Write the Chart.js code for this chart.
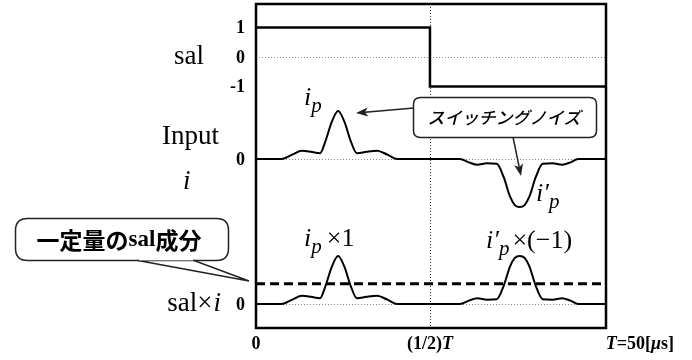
<!DOCTYPE html>
<html><head><meta charset="utf-8">
<script src="https://cdn.jsdelivr.net/npm/chart.js@4"></script>
<style>html,body{margin:0;padding:0;background:#fff}canvas{display:block}</style>
</head><body>
<canvas id="c" width="692" height="360"></canvas>
<script>
// ---------------- data (time in microseconds) ----------------
const salTime  = [0, 25, 25, 50.3];
const salValue = [1, 1, -1, -1];

const inputTime  = [0, 3.7, 5.2, 6.6, 7.9, 9.2, 10.0, 10.9, 11.8, 12.7, 13.6, 14.5, 15.9, 17.4, 18.9, 20.3,
                    29.3, 30.6, 31.8, 33.2, 34.6, 35.6, 36.5, 37.2, 37.9, 38.6, 39.3, 40.2, 41.2, 42.6, 44.0, 45.2, 46.3, 50.3];
const inputValue = [0, 0, 0.09, 0.17, 0.15, 0.12, 0.38, 0.78, 1.0, 0.78, 0.38, 0.12, 0.15, 0.17, 0.09, 0,
                    0, -0.07, -0.12, -0.09, -0.1, -0.38, -0.78, -0.96, -1.0, -0.96, -0.78, -0.38, -0.1, -0.09, -0.12, -0.07, 0, 0];

const productTime  = [0, 3.7, 5.2, 6.6, 7.9, 9.2, 10.0, 10.9, 11.8, 12.7, 13.6, 14.5, 15.9, 17.4, 18.9, 20.3,
                      29.3, 30.6, 31.8, 33.2, 34.6, 35.6, 36.5, 37.2, 37.9, 38.6, 39.3, 40.2, 41.2, 42.6, 44.0, 45.2, 46.3, 50.3];
const productValue = [0, 0, 0.09, 0.17, 0.15, 0.12, 0.38, 0.78, 1.0, 0.78, 0.38, 0.12, 0.15, 0.17, 0.09, 0,
                      0, 0.07, 0.12, 0.09, 0.1, 0.38, 0.78, 0.96, 1.0, 0.96, 0.78, 0.38, 0.1, 0.09, 0.12, 0.07, 0, 0];

const dcTime  = [0, 49.6];
const dcValue = [0.42, 0.42];

const salTickValues = [1, 0, -1];
const salTickLabels = ['1', '0', '-1'];
const xTickValues = [0, 25, 50];

// ---------------- panel layout (vertical placement on a shared axis) ----------------
const PANEL = {
  sal:     { base: 247, gain: 29.5 },
  input:   { base: 145, gain: 48 },
  product: { base: 0,   gain: 48 }
};
const toPts = (ts, vs, p) => ts.map((t, i) => ({ x: t, y: p.base + p.gain * vs[i] }));

const SERIF = "'Liberation Serif','Times New Roman',serif";
const CJK = "'Noto Sans CJK JP','Noto Sans CJK SC',sans-serif";

function runs(ctx, parts, x, y, align) {
  let w = 0;
  parts.forEach(p => { ctx.font = p.f; p.w = ctx.measureText(p.t).width; w += p.w + (p.gap || 0); });
  let cx = align === 'center' ? x - w / 2 : align === 'right' ? x - w : x;
  ctx.textAlign = 'left';
  parts.forEach(p => { ctx.font = p.f; ctx.fillText(p.t, cx, y + (p.dy || 0)); cx += p.w + (p.gap || 0); });
}
function rrect(ctx, x, y, w, h, r) {
  ctx.beginPath();
  ctx.moveTo(x + r, y); ctx.lineTo(x + w - r, y); ctx.quadraticCurveTo(x + w, y, x + w, y + r);
  ctx.lineTo(x + w, y + h - r); ctx.quadraticCurveTo(x + w, y + h, x + w - r, y + h);
  ctx.lineTo(x + r, y + h); ctx.quadraticCurveTo(x, y + h, x, y + h - r);
  ctx.lineTo(x, y + r); ctx.quadraticCurveTo(x, y, x + r, y); ctx.closePath();
}
function arrow(ctx, x1, y1, x2, y2) {
  const a = Math.atan2(y2 - y1, x2 - x1), L = 12, W = 4.5, N = 9;
  ctx.beginPath(); ctx.moveTo(x1, y1); ctx.lineTo(x2 - N * Math.cos(a), y2 - N * Math.sin(a)); ctx.stroke();
  ctx.beginPath();
  ctx.moveTo(x2, y2);
  ctx.lineTo(x2 - L * Math.cos(a) + W * Math.sin(a), y2 - L * Math.sin(a) - W * Math.cos(a));
  ctx.lineTo(x2 - N * Math.cos(a), y2 - N * Math.sin(a));
  ctx.lineTo(x2 - L * Math.cos(a) - W * Math.sin(a), y2 - L * Math.sin(a) + W * Math.cos(a));
  ctx.closePath(); ctx.fill();
}

const deco = {
  id: 'deco',
  beforeDatasetsDraw(chart) {
    const { ctx, chartArea: a, scales: { x, y } } = chart;
    ctx.save();
    ctx.lineWidth = 1;
    ctx.strokeStyle = '#8a8a8a';
    ctx.setLineDash([1, 2]);
    [PANEL.sal.base, PANEL.input.base, PANEL.product.base].forEach(v => {
      const py = Math.round(y.getPixelForValue(v)) + 0.5;
      ctx.beginPath(); ctx.moveTo(a.left, py); ctx.lineTo(a.right, py); ctx.stroke();
    });
    ctx.strokeStyle = '#333';
    const px = Math.round(x.getPixelForValue(25)) + 0.5;
    ctx.beginPath(); ctx.moveTo(px, a.top); ctx.lineTo(px, a.bottom); ctx.stroke();
    ctx.restore();
  },
  afterDatasetsDraw(chart) {
    const { ctx, chartArea: a, scales: { x, y } } = chart;
    ctx.save();
    // frame
    ctx.strokeStyle = '#000'; ctx.lineWidth = 2.5; ctx.setLineDash([]);
    ctx.strokeRect(a.left, a.top, a.right - a.left, a.bottom - a.top);

    ctx.fillStyle = '#000';
    // y tick labels
    ctx.textBaseline = 'middle';
    const tf = 'bold 18px ' + SERIF;
    salTickValues.forEach((v, i) => runs(ctx, [{ t: salTickLabels[i], f: tf }], 245, y.getPixelForValue(PANEL.sal.base + PANEL.sal.gain * v) + 1, 'right'));
    runs(ctx, [{ t: '0', f: tf }], 245, y.getPixelForValue(PANEL.input.base) + 1, 'right');
    runs(ctx, [{ t: '0', f: tf }], 245, y.getPixelForValue(PANEL.product.base) + 1, 'right');
    // x tick labels
    const xf = 'bold 18px ' + SERIF, xfi = 'italic bold 18px ' + SERIF;
    const xb = 344;
    runs(ctx, [{ t: '0', f: xf }], x.getPixelForValue(xTickValues[0]), xb, 'center');
    runs(ctx, [{ t: '(1/2)', f: xf }, { t: 'T', f: xfi }], x.getPixelForValue(xTickValues[1]), xb, 'center');
    runs(ctx, [{ t: 'T', f: xfi }, { t: '=50[', f: xf }, { t: 'μ', f: xfi }, { t: 's]', f: xf }], 674, xb, 'right');

    // left row labels
    ctx.textBaseline = 'alphabetic';
    const lf = '27px ' + SERIF, lfi = 'italic 27px ' + SERIF;
    runs(ctx, [{ t: 'sal', f: lf }], 174, 64, 'left');
    runs(ctx, [{ t: 'Input', f: lf }], 162, 144, 'left');
    runs(ctx, [{ t: 'i', f: lfi }], 183, 189, 'left');
    runs(ctx, [{ t: 'sal', f: lf }, { t: '×', f: lf, gap: 1 }, { t: 'i', f: lfi }], 221, 311, 'right');

    // curve labels
    const cf = 'italic 26px ' + SERIF, sf = 'italic 21px ' + SERIF, uf = '26px ' + SERIF;
    runs(ctx, [{ t: 'i', f: cf }, { t: 'p', f: sf, dy: 7 }], 304, 105, 'left');
    runs(ctx, [{ t: 'i′', f: cf }, { t: 'p', f: sf, dy: 7 }], 536, 201, 'left');
    runs(ctx, [{ t: 'i', f: cf }, { t: 'p', f: sf, dy: 7, gap: 5 }, { t: '×1', f: uf }], 304, 246, 'left');
    runs(ctx, [{ t: 'i′', f: cf }, { t: 'p', f: sf, dy: 7, gap: 3 }, { t: '×(−1)', f: uf }], 486, 248, 'left');

    // callout 1: switching noise
    ctx.strokeStyle = '#222'; ctx.fillStyle = '#222'; ctx.lineWidth = 1.5;
    arrow(ctx, 414, 108, 356, 113);
    arrow(ctx, 513, 137, 521, 176);
    ctx.fillStyle = '#fff';
    rrect(ctx, 413.5, 97.5, 183, 40, 7); ctx.fill(); ctx.stroke();
    ctx.fillStyle = '#000';
    ctx.textBaseline = 'middle';
    runs(ctx, [{ t: 'スイッチングノイズ', f: 'italic 500 17px ' + CJK }], 504, 118, 'center');

    // callout 2: DC component
    ctx.fillStyle = '#fff'; ctx.strokeStyle = '#222'; ctx.lineWidth = 1.5;
    rrect(ctx, 15.5, 218.5, 213, 42, 12);
    ctx.fill(); ctx.stroke();
    ctx.beginPath(); ctx.moveTo(138, 260.5); ctx.lineTo(249, 281); ctx.lineTo(194, 260.5); ctx.closePath();
    ctx.fill(); ctx.stroke();
    ctx.fillStyle = '#fff'; ctx.fillRect(139, 258, 54, 2.4);
    ctx.fillStyle = '#000';
    runs(ctx, [{ t: '一定量の', f: 'bold 23px ' + CJK }, { t: 'sal', f: 'bold 23px ' + SERIF }, { t: '成分', f: 'bold 23px ' + CJK }], 119, 240, 'center');
    ctx.restore();
  }
};

new Chart(document.getElementById('c'), {
  type: 'line',
  data: {
    datasets: [
      { data: toPts(salTime, salValue, PANEL.sal), borderColor: '#000', borderWidth: 2.5, tension: 0 },
      { data: toPts(inputTime, inputValue, PANEL.input), borderColor: '#000', borderWidth: 2, cubicInterpolationMode: 'monotone' },
      { data: toPts(productTime, productValue, PANEL.product), borderColor: '#000', borderWidth: 2, cubicInterpolationMode: 'monotone' },
      { data: toPts(dcTime, dcValue, PANEL.product), borderColor: '#000', borderWidth: 3, borderDash: [9, 5], tension: 0 }
    ]
  },
  options: {
    responsive: false,
    animation: false,
    devicePixelRatio: 1,
    layout: { padding: { left: 256, right: 86, top: 4, bottom: 32 } },
    elements: { point: { radius: 0 } },
    plugins: { legend: { display: false }, tooltip: { enabled: false } },
    scales: {
      x: { type: 'linear', min: 0, max: 50.3, display: false },
      y: { type: 'linear', min: -24, max: 300, display: false }
    }
  },
  plugins: [deco]
});
</script>
</body></html>
